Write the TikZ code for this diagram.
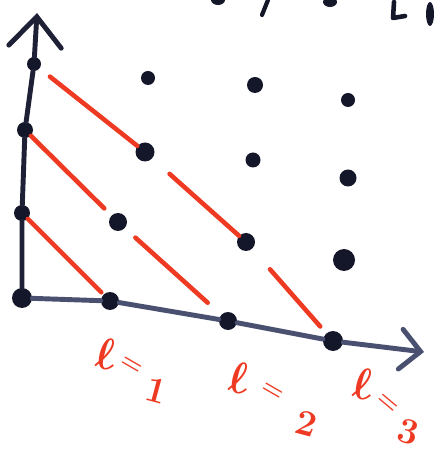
\documentclass[tikz,border=0pt]{standalone}
\usetikzlibrary{arrows.meta}
\definecolor{InkDot}{HTML}{14162A}
\definecolor{InkAxis}{HTML}{1E2136}
\definecolor{InkGrey}{HTML}{4A5070}
\definecolor{InkRed}{HTML}{EE3A22}
\tikzset{dot/.style={circle,fill=InkDot,inner sep=0pt,minimum size=3.6mm},
 axis/.style={draw=InkAxis,line width=2.8pt,line cap=round,line join=round},
 diag/.style={draw=InkRed,line width=2.6pt,line cap=round},
 lab/.style={text=InkRed,font=\huge\boldmath,inner sep=0pt},
 eqsign/.style={lab,font=\Large\boldmath}}
\begin{document}
\begin{tikzpicture}[x=0.2mm,y=-0.2mm]
\useasboundingbox (0,0) rectangle (433,453);
% dots on the axes
\node[dot,minimum size=4mm] (o) at (22,298) {};
\node[dot,minimum size=3.2mm] (y1) at (22,213) {};
\node[dot,minimum size=3.2mm] (y2) at (25,130) {};
\node[dot,minimum size=2.8mm] (y3) at (34,64) {};
\node[dot] (x1) at (110,301) {};
\node[dot] (x2) at (228,321) {};
\node[dot,minimum size=4mm] (x3) at (333,341) {};
% inner grid
\node[dot] (a11) at (118,222) {};
\node[dot,minimum size=3.8mm] (a12) at (145,152) {};
\node[dot,minimum size=2.8mm] (a13) at (148,78) {};
\node[dot] (a21) at (246,242) {};
\node[dot,minimum size=3mm] (a22) at (253,160) {};
\node[dot,minimum size=3.2mm] (a23) at (255,85) {};
\node[dot,minimum size=4.4mm] (a31) at (344,260) {};
\node[dot,minimum size=3.4mm] (a32) at (348,178) {};
\node[dot,minimum size=2.8mm] (a33) at (348,100) {};
% axes
\coordinate (ytip) at (37,13);
\coordinate (xtip) at (424,352);
\draw[axis,-{Straight Barb[length=6mm,width=10.5mm,line cap=round]}]
 (o) -- (y1) -- (y2) -- (y3) -- (ytip);
\draw[axis,draw=InkGrey,-{Straight Barb[length=4mm,width=8mm,line cap=round]}]
 (o) -- (x1) -- (x2) -- (x3) -- (xtip);
% the lines l = const
\draw[diag,shorten >=0.6mm] (y1) -- (x1);
\draw[diag,shorten >=2mm] (y2) -- (a11);
\draw[diag,shorten <=2.8mm,shorten >=3.6mm] (a11) -- (x2);
\draw[diag,shorten <=2.6mm] (y3) -- (a12);
\draw[diag,shorten <=4.6mm] (a12) -- (a21);
\draw[diag,shorten <=5.4mm,shorten >=1.8mm] (a21) -- (x3);
% labels
\node[lab,scale=1.2] (l1) at (105,354) {$\ell$};
\node[eqsign,rotate=-30] (e1) at (131,366) {$=$};
\node[lab,rotate=-15] (n1) at (156,391) {$1$};
\node[lab,scale=1.2] (l2) at (238,378) {$\ell$};
\node[eqsign,rotate=-30] (e2) at (272,392) {$=$};
\node[lab,rotate=-15] (n2) at (306,424) {$2$};
\node[lab,scale=1.2] (l3) at (362,384) {$\ell$};
\node[eqsign,rotate=-40] (e3) at (387,404) {$=$};
\node[lab,rotate=-15] (n3) at (408,432) {$3$};
% cut-off writing at the top edge
\fill[InkDot] (218,0) ellipse (7 and 5);
\draw[InkDot,line width=2.4pt,line cap=round] (268,0) -- (262,15);
\fill[InkDot] (330,2) ellipse (7 and 5);
\draw[InkDot,line width=2.6pt,line cap=round,line join=round] (394,2) -- (393,18) -- (405,16);
\fill[InkDot] (430,14) ellipse (4 and 12);
\end{tikzpicture}
\end{document}
